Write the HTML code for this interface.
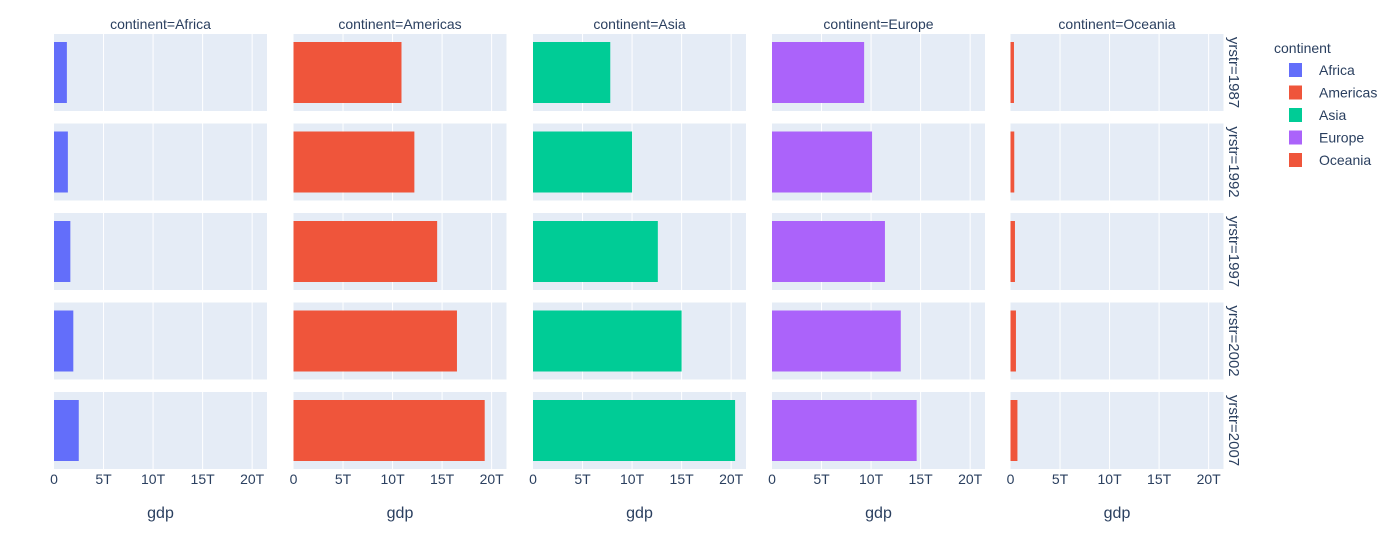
<!DOCTYPE html>
<html><head><meta charset="utf-8"><style>
body{margin:0;background:#fff;}
svg{display:block;font-family:"Liberation Sans","DejaVu Sans",sans-serif;}
</style></head><body>
<svg id="chart" width="1400" height="537" viewBox="0 0 1400 537"></svg>
<script>
const continents = ["Africa","Americas","Asia","Europe","Oceania"];
const years = ["1987","1992","1997","2002","2007"];
const gdpAfrica   = [1.3, 1.4, 1.65, 1.95, 2.5];
const gdpAmericas = [10.9, 12.2, 14.5, 16.5, 19.3];
const gdpAsia     = [7.8, 10.0, 12.6, 15.0, 20.4];
const gdpEurope   = [9.3, 10.1, 11.4, 13.0, 14.6];
const gdpOceania  = [0.35, 0.38, 0.45, 0.55, 0.7];
const tickValues = [0,5,10,15,20];
const tickLabels = ["0","5T","10T","15T","20T"];
const colors = ["#636EFA","#EF553B","#00CC96","#AB63FA","#EF553B"];

const series=[gdpAfrica,gdpAmericas,gdpAsia,gdpEurope,gdpOceania];
const NS="http://www.w3.org/2000/svg";
const svg=document.getElementById('chart');
function mk(tag,attrs,parent){const e=document.createElementNS(NS,tag);for(const k in attrs)e.setAttribute(k,attrs[k]);(parent||svg).appendChild(e);return e;}
const colX0=[54,293.5,533,772,1010.5], panelW=213, xMax=21.5;
const rowY0=[34,123.5,213,302.5,392], panelH=77;
function xScale(c,v){return colX0[c]+v/xMax*panelW;}
for(let c=0;c<5;c++){
  for(let r=0;r<5;r++){
    const bg=mk('rect',{x:colX0[c],y:rowY0[r],width:panelW,height:panelH,fill:'#E5ECF6'});
    
    
    tickValues.forEach(t=>{if(t>0){const g=mk('line',{x1:xScale(c,t),x2:xScale(c,t),y1:rowY0[r],y2:rowY0[r]+panelH,stroke:'#fff','stroke-width':1});
      
      }});
    const v=series[c][r];
    const b=mk('rect',{x:colX0[c],y:rowY0[r]+8,width:xScale(c,v)-colX0[c],height:panelH-16,fill:colors[c]});
    
    
  }
  const tt=mk('text',{x:colX0[c]+panelW/2,y:29,'text-anchor':'middle','font-size':14,fill:'#2a3f5f'});
  tt.textContent='continent='+continents[c];
  
  
  tickValues.forEach((t,i)=>{const tl=mk('text',{x:xScale(c,t),y:484,'text-anchor':'middle','font-size':14,fill:'#2a3f5f'});
    tl.textContent=tickLabels[i];
    
    });
  const xt=mk('text',{x:colX0[c]+panelW/2,y:518,'text-anchor':'middle','font-size':16,fill:'#2a3f5f'});
  xt.textContent='gdp';
  
  
}
years.forEach((y,r)=>{const cy=rowY0[r]+panelH/2;
  const t=mk('text',{x:1229,y:cy,'text-anchor':'middle','font-size':15,fill:'#2a3f5f',transform:'rotate(90 1229 '+cy+')'});
  t.textContent='yrstr='+y;
  
  });
const lt=mk('text',{x:1274,y:53,'font-size':14,fill:'#2a3f5f'});
lt.textContent='continent';


continents.forEach((n,i)=>{const y=70+i*22.5;
  const g=mk('g',{});
  
  
  mk('rect',{x:1289,y:y-7,width:13,height:14,fill:colors[i]},g);
  const t=mk('text',{x:1319,y:y+5,'font-size':14,fill:'#2a3f5f'},g);t.textContent=n;});
</script>
</body></html>
